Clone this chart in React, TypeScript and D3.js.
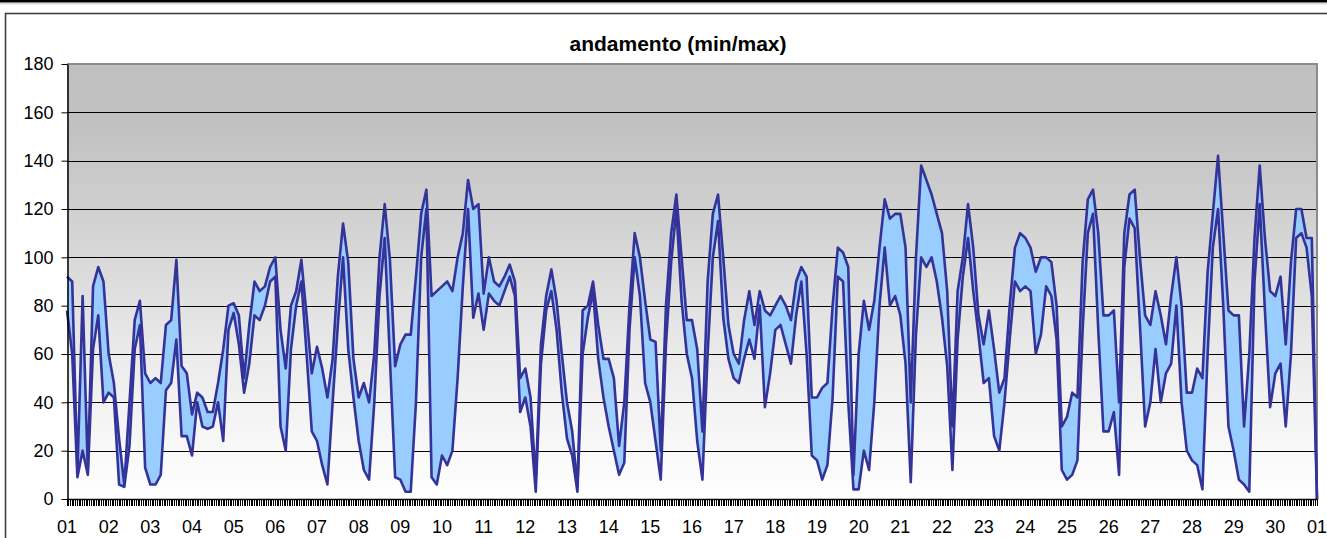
import { useEffect, useRef } from 'react';
import * as d3 from 'd3';

// one value every 3 hours, 8 per day, 30 days + closing point
const stepHours = 3;

const dayLabels = [
  '01', '02', '03', '04', '05', '06', '07', '08', '09', '10',
  '11', '12', '13', '14', '15', '16', '17', '18', '19', '20',
  '21', '22', '23', '24', '25', '26', '27', '28', '29', '30', '01',
];

const yTicks = [0, 20, 40, 60, 80, 100, 120, 140, 160, 180];

const maxValues = [
  92, 90, 11, 84, 12, 88, 96, 90,        // 01
  60, 48, 25, 6, 40, 74, 82, 52,         // 02
  48, 50, 48, 72, 74, 99, 55, 52,        // 03
  35, 44, 42, 36, 36, 48, 62, 80,        // 04
  81, 76, 50, 72, 90, 86, 88, 96,        // 05
  100, 70, 54, 80, 86, 99, 76, 52,       // 06
  63, 54, 42, 58, 92, 114, 98, 58,       // 07
  42, 48, 40, 60, 100, 122, 99, 55,      // 08
  64, 68, 68, 92, 118, 128, 84, 86,      // 09
  88, 90, 86, 100, 110, 132, 120, 122,   // 10
  85, 100, 90, 88, 92, 97, 90, 50,       // 11
  54, 42, 8, 64, 84, 95, 82, 60,         // 12
  40, 28, 5, 78, 80, 90, 72, 58,         // 13
  58, 50, 22, 40, 80, 110, 100, 82,      // 14
  66, 65, 20, 80, 110, 126, 100, 74,     // 15
  74, 62, 28, 90, 118, 126, 100, 72,     // 16
  60, 56, 74, 86, 72, 86, 78, 76,        // 17
  80, 84, 80, 74, 90, 96, 92, 42,        // 18
  42, 46, 48, 80, 104, 102, 96, 10,      // 19
  60, 82, 70, 82, 104, 124, 116, 118,    // 20
  118, 104, 40, 100, 138, 132, 126, 118, // 21
  110, 86, 30, 86, 100, 122, 104, 76,    // 22
  64, 78, 62, 44, 50, 80, 104, 110,      // 23
  108, 104, 94, 100, 100, 98, 80, 30,    // 24
  34, 44, 42, 98, 124, 128, 110, 76,     // 25
  76, 78, 40, 110, 126, 128, 100, 76,    // 26
  72, 86, 76, 64, 84, 100, 80, 44,       // 27
  44, 54, 50, 94, 118, 142, 110, 78,     // 28
  76, 76, 30, 60, 108, 138, 108, 86,     // 29
  84, 92, 64, 98, 120, 120, 108, 108,    // 30
  0,
];

const minValues = [
  78, 60, 9, 20, 10, 62, 76, 40,         // 01
  44, 42, 6, 5, 22, 62, 72, 13,          // 02
  6, 6, 10, 45, 48, 66, 26, 26,          // 03
  18, 40, 30, 29, 30, 40, 24, 70,        // 04
  77, 64, 44, 56, 76, 74, 80, 90,        // 05
  92, 30, 20, 62, 80, 90, 60, 28,        // 06
  24, 14, 6, 40, 72, 100, 62, 42,        // 07
  24, 12, 8, 40, 84, 108, 58, 9,         // 08
  8, 3, 3, 40, 100, 120, 9, 6,           // 09
  18, 14, 20, 50, 88, 120, 75, 85,       // 10
  70, 85, 82, 80, 86, 92, 84, 36,        // 11
  42, 30, 3, 56, 78, 86, 70, 44,         // 12
  25, 18, 3, 60, 75, 86, 58, 42,         // 13
  30, 20, 10, 15, 70, 100, 84, 48,       // 14
  40, 24, 8, 64, 98, 120, 82, 60,        // 15
  50, 24, 8, 60, 100, 115, 75, 58,       // 16
  50, 48, 58, 66, 58, 80, 38, 52,        // 17
  70, 72, 64, 56, 76, 90, 60, 18,        // 18
  16, 8, 14, 42, 92, 90, 40, 4,          // 19
  4, 20, 12, 40, 80, 104, 80, 84,        // 20
  76, 56, 7, 68, 100, 96, 100, 90,       // 21
  75, 55, 12, 66, 92, 108, 86, 68,       // 22
  48, 50, 26, 20, 40, 66, 90, 86,        // 23
  88, 86, 60, 68, 88, 84, 66, 12,        // 24
  8, 10, 16, 70, 110, 118, 70, 28,       // 25
  28, 36, 10, 96, 116, 112, 72, 30,      // 26
  40, 62, 40, 52, 56, 80, 40, 20,        // 27
  16, 14, 4, 60, 104, 120, 80, 30,       // 28
  20, 8, 6, 3, 90, 122, 78, 38,          // 29
  52, 56, 30, 60, 108, 110, 104, 84,     // 30
  0,
];

const font = "Arial, 'Liberation Sans', sans-serif";

export default function App() {
  const ref = useRef<SVGSVGElement>(null);

  useEffect(() => {
    if (!ref.current) return;
    const svg = d3.select(ref.current);
    svg.selectAll('*').remove();

    const width = 1327;
    const left = 67, right = 1317, top = 64, bottom = 499;
    const totalHours = (dayLabels.length - 1) * 24;

    const x = d3.scaleLinear().domain([0, totalHours]).range([left, right]);
    const y = d3.scaleLinear().domain([0, 180]).range([bottom, top]);

    // page frame
    svg.append('rect').attr('width', width).attr('height', 538).attr('fill', '#fff');
    svg.append('rect').attr('x', 0).attr('y', 0).attr('width', width).attr('height', 2.5).attr('fill', '#000');
    svg.append('line').attr('x1', 0).attr('x2', width).attr('y1', 3.8).attr('y2', 3.8)
      .attr('stroke', '#c8c8c8').attr('stroke-width', 1);
    svg.append('rect')
      .attr('x', 5.5).attr('y', 13.5).attr('width', 1330).attr('height', 540)
      .attr('fill', 'none').attr('stroke', '#404040').attr('stroke-width', 1.6);

    // title
    svg.append('text')
      .attr('x', 678).attr('y', 51)
      .attr('text-anchor', 'middle')
      .attr('font-family', font).attr('font-size', 21).attr('font-weight', 'bold')
      .text('andamento (min/max)');

    // plot background gradient
    const grad = svg.append('defs').append('linearGradient')
      .attr('id', 'plotBg').attr('x1', 0).attr('y1', 0).attr('x2', 0).attr('y2', 1);
    [[0, '#c0c0c0'], [0.15, '#c1c1c1'], [0.45, '#d9d9d9'], [0.7, '#ededed'], [1, '#ffffff']]
      .forEach(([o, c]) => grad.append('stop').attr('offset', o as number).attr('stop-color', c as string));

    svg.append('rect')
      .attr('x', left).attr('y', top).attr('width', right - left).attr('height', bottom - top)
      .attr('fill', 'url(#plotBg)');

    // gridlines
    svg.append('g').selectAll('line')
      .data(yTicks.filter(t => t > 0 && t < 180))
      .enter().append('line')
      .attr('x1', left).attr('x2', right)
      .attr('y1', d => Math.round(y(d)) + 0.5).attr('y2', d => Math.round(y(d)) + 0.5)
      .attr('stroke', '#000').attr('stroke-width', 1);

    // plot border (top / right)
    svg.append('path')
      .attr('d', `M${left},${top}H${right}V${bottom}`)
      .attr('fill', 'none').attr('stroke', '#8c8c8c').attr('stroke-width', 2);

    const hours = maxValues.map((_, i) => i * stepHours);

    const area = d3.area<number>()
      .x((_, i) => x(hours[i]))
      .y0((_, i) => y(minValues[i]))
      .y1((_, i) => y(maxValues[i]));

    const line = d3.line<number>()
      .x((_, i) => x(hours[i]))
      .y(d => y(d));

    svg.append('path')
      .datum(maxValues)
      .attr('d', area)
      .attr('fill', '#99ccff');

    [minValues, maxValues].forEach(series => {
      svg.append('path')
        .datum(series)
        .attr('d', line)
        .attr('fill', 'none')
        .attr('stroke', '#333399')
        .attr('stroke-width', 2.6)
        .attr('stroke-linejoin', 'round');
    });

    // y axis
    const yAxis = svg.append('g')
      .attr('transform', `translate(${left + 0.5},0)`)
      .call(d3.axisLeft(y).tickValues(yTicks).tickSize(6).tickSizeOuter(0).tickPadding(8));
    yAxis.select('.domain').attr('stroke', '#000').attr('stroke-width', 1.5);
    yAxis.selectAll('.tick line').attr('stroke', '#000');
    yAxis.selectAll('text')
      .attr('font-family', font).attr('font-size', 18).attr('fill', '#000');

    // x axis: one tick per hour
    const hourTicks = d3.range(0, totalHours + 1);
    const tickG = svg.append('g').attr('class', 'hour-ticks');
    hourTicks.forEach(h => {
      const px = Math.floor(x(h)) + 0.5;
      tickG.append('line')
        .attr('x1', px).attr('x2', px)
        .attr('y1', bottom).attr('y2', bottom + 7)
        .attr('stroke', '#000')
        .attr('stroke-width', 1);
    });
    svg.append('line')
      .attr('x1', left).attr('x2', right)
      .attr('y1', bottom + 0.5).attr('y2', bottom + 0.5)
      .attr('stroke', '#000').attr('stroke-width', 1.5);

    svg.append('g').selectAll('text')
      .data(dayLabels)
      .enter().append('text')
      .attr('x', (_, i) => x(i * 24))
      .attr('y', 533)
      .attr('text-anchor', 'middle')
      .attr('font-family', font).attr('font-size', 18)
      .text(d => d);
  }, []);

  return (
    <svg
      ref={ref}
      width={1327}
      height={538}
      style={{ position: 'absolute', left: 0, top: 0 }}
    />
  );
}
